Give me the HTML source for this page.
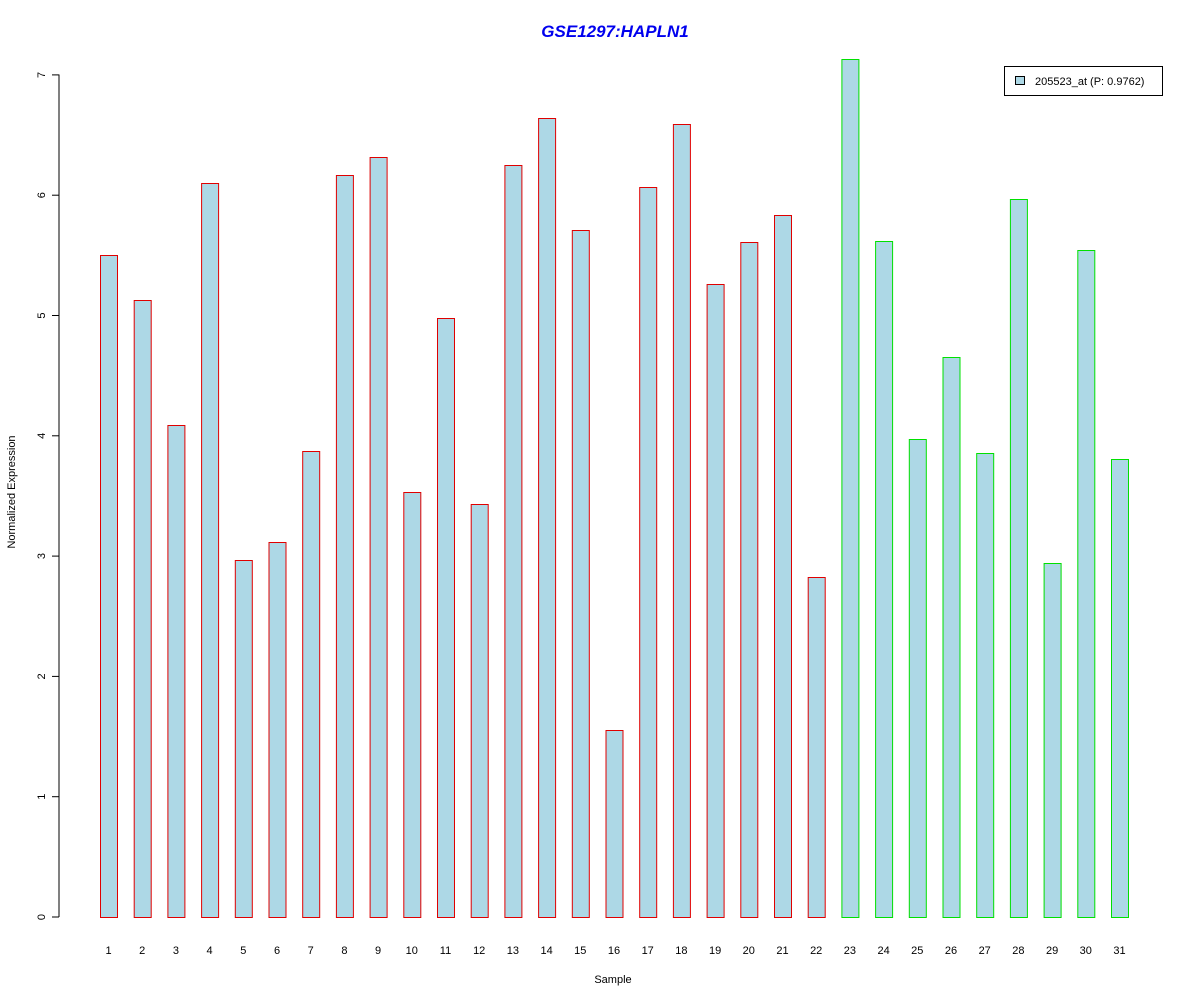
<!DOCTYPE html>
<html><head><style>body{margin:0;background:#fff}svg{display:block}</style></head><body>
<svg width="1200" height="1000" xmlns="http://www.w3.org/2000/svg" font-family="Liberation Sans, sans-serif">
<rect width="1200" height="1000" fill="#fff"/>
<text x="615" y="37" text-anchor="middle" font-size="17" font-weight="bold" font-style="italic" fill="#0000ee">GSE1297:HAPLN1</text>
<line x1="59" y1="74.5" x2="59" y2="917" stroke="#000"/>
<g stroke="#000">
<line x1="52" x2="59" y1="917" y2="917"/><line x1="52" x2="59" y1="796.7" y2="796.7"/><line x1="52" x2="59" y1="676.4" y2="676.4"/><line x1="52" x2="59" y1="556.1" y2="556.1"/><line x1="52" x2="59" y1="435.8" y2="435.8"/><line x1="52" x2="59" y1="315.5" y2="315.5"/><line x1="52" x2="59" y1="195.2" y2="195.2"/><line x1="52" x2="59" y1="74.9" y2="74.9"/>
</g>
<g font-size="11" text-anchor="middle">
<text transform="translate(45,917) rotate(-90)">0</text>
<text transform="translate(45,796.7) rotate(-90)">1</text>
<text transform="translate(45,676.4) rotate(-90)">2</text>
<text transform="translate(45,556.1) rotate(-90)">3</text>
<text transform="translate(45,435.8) rotate(-90)">4</text>
<text transform="translate(45,315.5) rotate(-90)">5</text>
<text transform="translate(45,195.2) rotate(-90)">6</text>
<text transform="translate(45,74.9) rotate(-90)">7</text>
<text transform="translate(15,492) rotate(-90)">Normalized Expression</text>
</g>
<text x="613" y="983" text-anchor="middle" font-size="11">Sample</text>
<g fill="#add8e6" stroke="#e00000">
<rect x="100.5" y="255.5" width="17" height="662"/>
<rect x="134.2" y="300.5" width="17" height="617"/>
<rect x="167.9" y="425.5" width="17" height="492"/>
<rect x="201.6" y="183.5" width="17" height="734"/>
<rect x="235.3" y="560.5" width="17" height="357"/>
<rect x="269" y="542.5" width="17" height="375"/>
<rect x="302.7" y="451.5" width="17" height="466"/>
<rect x="336.4" y="175.5" width="17" height="742"/>
<rect x="370.1" y="157.5" width="17" height="760"/>
<rect x="403.8" y="492.5" width="17" height="425"/>
<rect x="437.5" y="318.5" width="17" height="599"/>
<rect x="471.2" y="504.5" width="17" height="413"/>
<rect x="504.9" y="165.5" width="17" height="752"/>
<rect x="538.6" y="118.5" width="17" height="799"/>
<rect x="572.3" y="230.5" width="17" height="687"/>
<rect x="606" y="730.5" width="17" height="187"/>
<rect x="639.7" y="187.5" width="17" height="730"/>
<rect x="673.4" y="124.5" width="17" height="793"/>
<rect x="707.1" y="284.5" width="17" height="633"/>
<rect x="740.8" y="242.5" width="17" height="675"/>
<rect x="774.5" y="215.5" width="17" height="702"/>
<rect x="808.2" y="577.5" width="17" height="340"/>
</g>
<g fill="#add8e6" stroke="#00e000">
<rect x="841.9" y="59.5" width="17" height="858"/>
<rect x="875.6" y="241.5" width="17" height="676"/>
<rect x="909.3" y="439.5" width="17" height="478"/>
<rect x="943" y="357.5" width="17" height="560"/>
<rect x="976.7" y="453.5" width="17" height="464"/>
<rect x="1010.4" y="199.5" width="17" height="718"/>
<rect x="1044.1" y="563.5" width="17" height="354"/>
<rect x="1077.8" y="250.5" width="17" height="667"/>
<rect x="1111.5" y="459.5" width="17" height="458"/>
</g>
<g font-size="11" text-anchor="middle">
<text x="108.5" y="954">1</text><text x="142.2" y="954">2</text><text x="175.9" y="954">3</text><text x="209.6" y="954">4</text><text x="243.3" y="954">5</text><text x="277" y="954">6</text><text x="310.7" y="954">7</text><text x="344.4" y="954">8</text><text x="378.1" y="954">9</text><text x="411.8" y="954">10</text><text x="445.5" y="954">11</text><text x="479.2" y="954">12</text><text x="512.9" y="954">13</text><text x="546.6" y="954">14</text><text x="580.3" y="954">15</text><text x="614" y="954">16</text><text x="647.7" y="954">17</text><text x="681.4" y="954">18</text><text x="715.1" y="954">19</text><text x="748.8" y="954">20</text><text x="782.5" y="954">21</text><text x="816.2" y="954">22</text><text x="849.9" y="954">23</text><text x="883.6" y="954">24</text><text x="917.3" y="954">25</text><text x="951" y="954">26</text><text x="984.7" y="954">27</text><text x="1018.4" y="954">28</text><text x="1052.1" y="954">29</text><text x="1085.8" y="954">30</text><text x="1119.5" y="954">31</text>
</g>
<rect x="1004.5" y="66.5" width="158" height="29" fill="#fff" stroke="#000"/>
<rect x="1015.5" y="76.5" width="9" height="8" fill="#add8e6" stroke="#000"/>
<text x="1035" y="85" font-size="11">205523_at (P: 0.9762)</text>
</svg>
</body></html>
